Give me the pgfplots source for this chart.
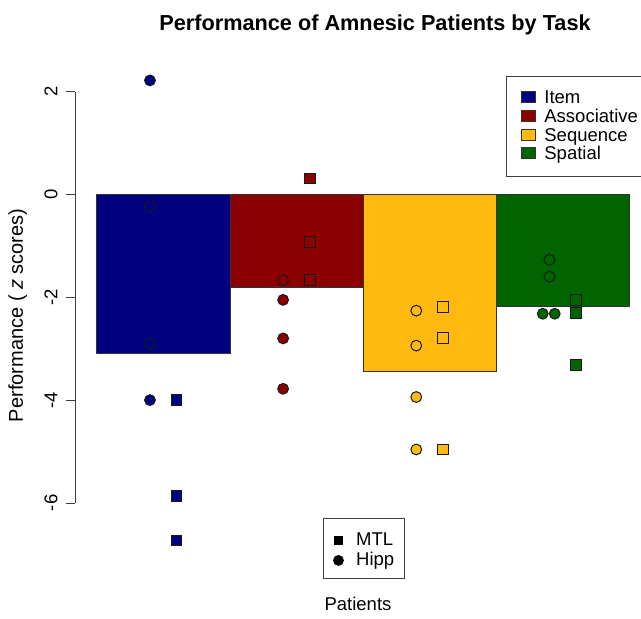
\documentclass[border=0pt]{standalone}
\usepackage{fontspec}
\setmainfont{Liberation Sans}
\usepackage{pgfplots}
\pgfplotsset{compat=1.18}

\definecolor{itemc}{RGB}{0,0,128}
\definecolor{assocc}{RGB}{139,0,0}
\definecolor{seqc}{RGB}{255,185,15}
\definecolor{spatc}{RGB}{0,100,0}
\newcommand{\basefont}{\fontsize{18.5bp}{22bp}\selectfont}

\pgfplotsset{
  hipp/.style={only marks, forget plot, mark=*, mark size=5.4bp,
    mark options={fill=#1, draw=black!90, line width=1bp}},
  mtl/.style={only marks, forget plot, mark=square*, mark size=5.4bp,
    mark options={fill=#1, draw=black!90, line width=1bp}},
  task/.style={ybar, bar width=1, bar shift=0pt, fill=#1, draw=black!80, line width=0.7bp,
    legend image code/.code={\path (0bp,0bp) (34.3bp,0bp);
      \draw[fill=#1, draw=black!80, line width=0.7bp] (11.7bp,-4.25bp) rectangle (25.3bp,6.75bp);}},
  every axis title/.style={at={(axis description cs:0.5209,1.1483)}, anchor=base,
    font=\fontsize{21.7bp}{26bp}\selectfont\bfseries},
}

\begin{document}
\begin{tikzpicture}
\path[use as bounding box] (-75.4bp,-116.1bp) rectangle (565.6bp,502.9bp);
\begin{axis}[
  at={(0,0)}, anchor=south west,
  scale only axis, width=575.2bp, height=411.2bp,
  xmin=-0.16, xmax=4.16, ymin=-6, ymax=2,
  clip=false,
  axis y line*=left,
  axis line style={-, draw=black!75, line width=0.8bp},
  x axis line style={draw=none},
  xtick=\empty,
  ytick={-6,-4,-2,0,2},
  yticklabels={-6,-4,-2,0,2},
  tick align=outside, major tick length=9.5bp,
  ytick style={draw=black!75, line width=0.8bp},
  yticklabel style={xshift=-8.5bp, rotate=90, anchor=base, font=\basefont},
  title={Performance of Amnesic Patients by Task},
  xlabel={Patients},
  xlabel style={at={(axis description cs:0.4913,-0.2605)}, anchor=base, font=\basefont},
  ylabel={Performance ( \textit{z} scores)},
  ylabel style={at={(axis description cs:-0.0915,0.4562)}, anchor=base,
    font=\fontsize{20bp}{24bp}\selectfont},
  legend style={at={(axis description cs:0.7486,1.0382)}, anchor=north west,
    draw=black!75, line width=0.8bp, inner xsep=3bp, inner ysep=12.6bp,
    row sep=0pt, font=\basefont,
    nodes={inner sep=0pt, text height=14.7bp, text depth=4bp}},
  legend cell align=left,
]
% group means (bars hang from zero)
\addplot[task=itemc]  coordinates {(0.5,-3.10)};
\addplot[task=assocc] coordinates {(1.5,-1.80)};
\addplot[task=seqc]   coordinates {(2.5,-3.45)};
\addplot[task=spatc]  coordinates {(3.5,-2.18)};
\legend{Item,Associative,Sequence,Spatial}

% individual patients: Hipp = circles, MTL = squares
\addplot[hipp=itemc]  coordinates {(0.40,2.22) (0.40,-0.24) (0.40,-2.90) (0.40,-4.00)};
\addplot[mtl=itemc]   coordinates {(0.60,-4.00) (0.60,-5.87) (0.60,-6.73)};
\addplot[hipp=assocc] coordinates {(1.40,-1.67) (1.40,-2.05) (1.40,-2.80) (1.40,-3.78)};
\addplot[mtl=assocc]  coordinates {(1.60,0.31) (1.60,-0.92) (1.60,-1.67)};
\addplot[hipp=seqc]   coordinates {(2.40,-2.26) (2.40,-2.94) (2.40,-3.94) (2.40,-4.96)};
\addplot[mtl=seqc]    coordinates {(2.60,-2.19) (2.60,-2.79) (2.60,-4.96)};
\addplot[hipp=spatc]  coordinates {(3.40,-1.27) (3.40,-1.60) (3.35,-2.32) (3.44,-2.32)};
\addplot[mtl=spatc]   coordinates {(3.60,-2.05) (3.60,-2.31) (3.60,-3.31)};
\end{axis}

% second (empty) axis only for the patient-group legend
\begin{axis}[
  at={(0,0)}, anchor=south west,
  scale only axis, width=575.2bp, height=411.2bp,
  xmin=-0.16, xmax=4.16, ymin=-6, ymax=2,
  hide axis,
  legend style={at={(axis description cs:0.4299,-0.0375)}, anchor=north west,
    draw=black!75, line width=0.8bp, inner xsep=9.9bp, inner ysep=10bp,
    row sep=0pt, font=\basefont,
    nodes={inner sep=0pt, text height=16.7bp, text depth=3.3bp}},
  legend cell align=left,
]
\addlegendimage{legend image code/.code={\path (0bp,0bp) (22.4bp,0bp);
  \fill[black] (0.9bp,-5.9bp) rectangle (9.3bp,2.5bp);}}
\addlegendentry{MTL}
\addlegendimage{legend image code/.code={\path (0bp,0bp) (22.4bp,0bp);
  \fill[black] (5.1bp,-1.7bp) circle[radius=5bp];}}
\addlegendentry{Hipp}
\end{axis}
\end{tikzpicture}
\end{document}
